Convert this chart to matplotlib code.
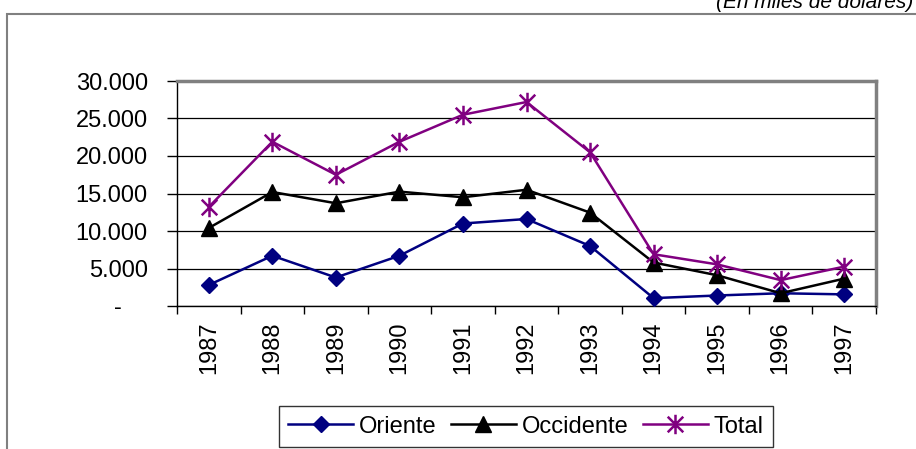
import matplotlib
matplotlib.use("Agg")
import matplotlib.pyplot as plt
from matplotlib.path import Path
from matplotlib.patches import Rectangle
from matplotlib.ticker import FixedLocator, FuncFormatter
import numpy as np

years = ["1987", "1988", "1989", "1990", "1991", "1992", "1993", "1994", "1995", "1996", "1997"]
oriente = [2800, 6700, 3800, 6700, 11000, 11600, 8000, 1050, 1400, 1700, 1550]
occidente = [10400, 15200, 13700, 15250, 14500, 15500, 12450, 5800, 4100, 1700, 3650]
total = [13200, 21900, 17500, 21900, 25500, 27200, 20500, 6900, 5550, 3450, 5250]
y_ticks = [0, 5000, 10000, 15000, 20000, 25000, 30000]

plt.rcParams["font.family"] = ["Liberation Sans", "DejaVu Sans"]

W, H = 916, 449
fig = plt.figure(figsize=(W / 100, H / 100), dpi=100)

# outer chart frame
fig.patches.append(Rectangle((7 / W, -0.05), 1.2, 1 - 14 / H + 0.05, transform=fig.transFigure,
                             fill=False, edgecolor="#808080", linewidth=1.5))
fig.text(913 / W, 1 - 8 / H, "(En miles de dólares)", ha="right", va="baseline",
         fontsize=15, style="italic", color="black")

ax = fig.add_axes([177 / W, 1 - 306 / H, (876 - 177) / W, (306 - 81) / H])

# asterisk marker: vertical stroke plus an X
star = Path([(0, -1), (0, 1), (-0.8, -0.8), (0.8, 0.8), (-0.8, 0.8), (0.8, -0.8)],
            [Path.MOVETO, Path.LINETO, Path.MOVETO, Path.LINETO, Path.MOVETO, Path.LINETO])

x = np.arange(len(years))
ax.plot(x, oriente, color="#000080", lw=1.8, marker="D", ms=8.5, label="Oriente", zorder=3)
ax.plot(x, occidente, color="black", lw=1.8, marker="^", ms=11, label="Occidente", zorder=3)
ax.plot(x, total, color="#800080", lw=1.8, marker=star, ms=14, mew=1.8,
        label="Total", zorder=4)

ax.set_xlim(-0.5, len(years) - 0.5)
ax.set_ylim(0, 30000)
ax.yaxis.set_major_locator(FixedLocator(y_ticks))
# accounting-style labels: thousands with dots, zero shown as a dash
ax.yaxis.set_major_formatter(FuncFormatter(
    lambda v, p: "-    " if v == 0 else f"{int(v):,}".replace(",", ".")))
ax.grid(axis="y", color="black", lw=0.9)
ax.set_axisbelow(True)

ax.set_xticks(x)
ax.set_xticklabels(years, rotation=90)
ax.set_xticks(np.arange(-0.5, len(years)), minor=True)
ax.tick_params(axis="x", which="major", length=0, pad=11, labelsize=17)
ax.tick_params(axis="x", which="minor", length=6, width=1, direction="out")
ax.tick_params(axis="y", length=7, width=1, direction="out", pad=14, labelsize=17)

for s in ("left", "bottom"):
    ax.spines[s].set_color("black")
    ax.spines[s].set_linewidth(1)
for s in ("top", "right"):
    ax.spines[s].set_color("#808080")
    ax.spines[s].set_linewidth(2.5)

leg = fig.legend(loc="lower center", bbox_to_anchor=(526 / W, 2 / H), ncol=3,
                 fontsize=17, frameon=True, fancybox=False, edgecolor="black",
                 handlelength=2.75, handletextpad=0.25, columnspacing=0.6,
                 borderpad=0.4, borderaxespad=0)
leg.get_frame().set_linewidth(1)

fig.savefig("out.png", dpi=100)
